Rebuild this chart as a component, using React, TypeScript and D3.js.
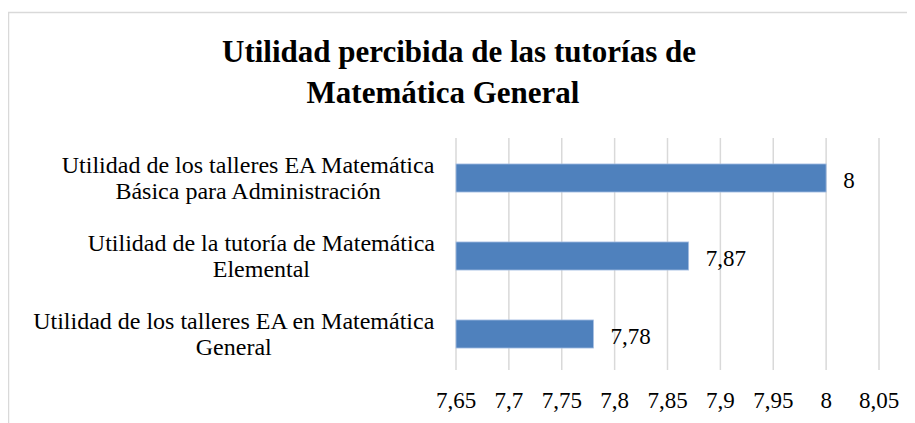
import React from 'react'
import * as d3 from 'd3'

// categories top to bottom, each label split over two lines as in the chart
const categories = [
  'Utilidad de los talleres EA Matemática Básica para Administración',
  'Utilidad de la tutoría de Matemática Elemental',
  'Utilidad de los talleres EA en Matemática General',
]
const categoryLines = [
  ['Utilidad de los talleres EA Matemática', 'Básica para Administración'],
  ['Utilidad de la tutoría de Matemática', 'Elemental'],
  ['Utilidad de los talleres EA en Matemática', 'General'],
]
const values = [8, 7.87, 7.78]
const tickValues = [7.65, 7.7, 7.75, 7.8, 7.85, 7.9, 7.95, 8, 8.05]
const titleLines = ['Utilidad percibida de las tutorías de', 'Matemática General']

const W = 915
const H = 423
const FONT = 'Liberation Serif'
const GRID = '#d9d9d9'
const LABEL_SIZE = 24

const comma = (v: number) => String(+v.toFixed(2)).replace('.', ',')

// width of a label line, used to centre each two-line block
let ctx: CanvasRenderingContext2D | null = null
function textWidth(s: string, size: number) {
  if (!ctx) ctx = document.createElement('canvas').getContext('2d')
  if (!ctx) return s.length * size * 0.42
  ctx.font = `${size}px "${FONT}"`
  return ctx.measureText(s).width
}

export default function App() {
  const x = d3.scaleLinear().domain([7.65, 8.05]).range([456, 879])
  const y = d3.scaleBand<string>()
    .domain(categories)
    .range([139, 373])
    .paddingInner(0.64)
    .paddingOuter(0.32)

  const labelRight = 435
  const titleX = [459, 443]
  const txt = (size: number, bold = false) => ({ fontFamily: FONT, fontSize: size, fontWeight: bold ? 'bold' : 'normal' })

  return (
    <svg width={W} height={H} style={{ display: 'block', margin: '-8px 0 0 -8px', background: '#fff' }}>
      {/* caption cut off by the top edge */}
      <text x={51} y={-1} style={txt(22)}>
        <tspan fontWeight="bold">Figura 4.</tspan> Utilidad percibida
      </text>

      {/* chart frame, running past the right and bottom edges */}
      <rect x={8.5} y={12.5} width={1000} height={500} fill="none" stroke={GRID} strokeWidth={1.5} />

      {titleLines.map((t, i) => (
        <text key={t} x={titleX[i]} y={62 + i * 41} textAnchor="middle" style={txt(31, true)}>{t}</text>
      ))}

      {tickValues.map(t => (
        <g key={t}>
          <line x1={x(t)} x2={x(t)} y1={138} y2={370} stroke={GRID} strokeWidth={1.5} />
          <text x={x(t)} y={408} textAnchor="middle" style={txt(23)}>{comma(t)}</text>
        </g>
      ))}

      {values.map((v, i) => {
        const y0 = y(categories[i])!
        const cy = y0 + y.bandwidth() / 2
        const maxW = d3.max(categoryLines[i], l => textWidth(l, LABEL_SIZE)) || 0
        return (
          <g key={categories[i]}>
            <rect x={x(7.65)} y={y0} width={x(v) - x(7.65)} height={y.bandwidth()}
              fill="#4f81bd" stroke="#a9c1e3" strokeWidth={0.8} />
            <text x={x(v) + 17} y={cy + 10} style={txt(23)}>{comma(v)}</text>
            {categoryLines[i].map((l, j) => (
              <text key={l} x={labelRight - maxW / 2} y={cy - 5 + j * 26} textAnchor="middle" style={txt(LABEL_SIZE)}>{l}</text>
            ))}
          </g>
        )
      })}
    </svg>
  )
}
